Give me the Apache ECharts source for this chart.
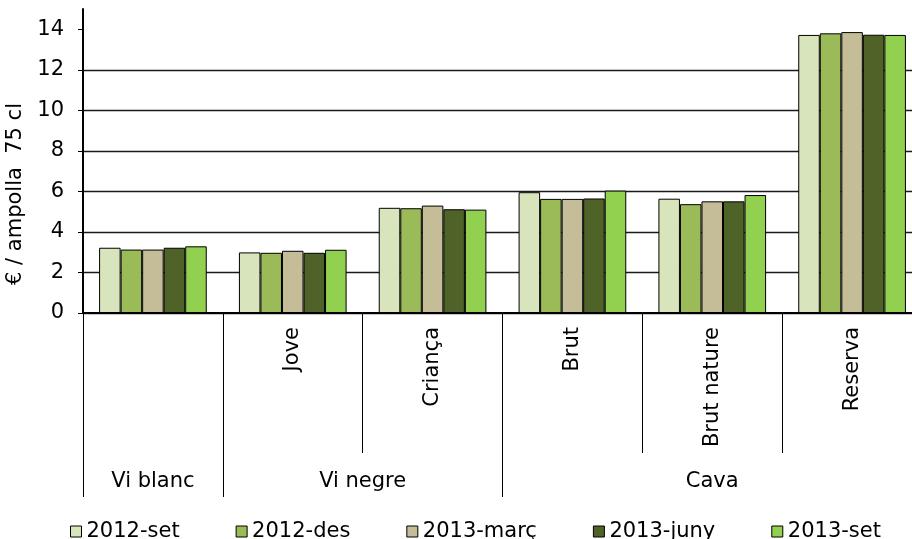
<!DOCTYPE html>
<html>
<head>
<meta charset="utf-8">
<script src="https://cdn.jsdelivr.net/npm/echarts@6/dist/echarts.min.js"></script>
<style>
html,body{margin:0;padding:0;background:#fff;}
#chart{width:912px;height:539px;}
</style>
</head>
<body>
<div id="chart"></div>
<script>
const categories = ['', 'Jove', 'Criança', 'Brut', 'Brut nature', 'Reserva'];
const groupNames = ['Vi blanc', 'Vi negre', 'Cava'];
const groupCenters = [0.5, 2, 4.5];
const groupBounds = [0, 1, 3, 6];
const seriesNames = ['2012-set', '2012-des', '2013-març', '2013-juny', '2013-set'];
const set2012 = [3.22, 2.99, 5.19, 5.96, 5.64, 13.72];
const des2012 = [3.13, 2.97, 5.17, 5.63, 5.37, 13.80];
const marc2013 = [3.13, 3.07, 5.30, 5.63, 5.51, 13.86];
const juny2013 = [3.22, 2.97, 5.12, 5.65, 5.51, 13.73];
const set2013 = [3.29, 3.12, 5.10, 6.04, 5.82, 13.72];
const yTicks = [0, 2, 4, 6, 8, 10, 12, 14];

const colors = ['#D8E4BC', '#9BBB59', '#C4BD97', '#4F6228', '#92D050'];
const values = [set2012, des2012, marc2013, juny2013, set2013];
const FONT = 'DejaVu Sans';

const chart = echarts.init(document.getElementById('chart'), null, {renderer: 'canvas'});
chart.setOption({
  animation: false,
  backgroundColor: '#ffffff',
  textStyle: {fontFamily: FONT, color: '#000'},
  legend: {
    left: 65, top: 516,
    icon: 'rect', itemWidth: 11, itemHeight: 11, itemGap: 56,
    textStyle: {fontFamily: FONT, fontSize: 21, color: '#000'},
    itemStyle: {borderColor: '#000', borderWidth: 1},
    data: seriesNames
  },
  grid: {left: 83, top: 9, right: -10, bottom: 226, containLabel: false, outerBoundsMode: 'none'},
  xAxis: [
    {
      type: 'category', data: categories, position: 'bottom',
      axisLine: {show: true, lineStyle: {color: '#000', width: 2}},
      axisTick: {show: true, length: 140, alignWithLabel: false, lineStyle: {color: '#000', width: 1}},
      axisLabel: {rotate: 90, interval: 0, margin: 14, fontFamily: FONT, fontSize: 21, color: '#000'},
      splitLine: {show: false}
    },
    {
      type: 'value', min: 0, max: 6, position: 'bottom', offset: 140,
      axisLine: {show: false},
      axisTick: {show: true, length: 44, customValues: groupBounds, lineStyle: {color: '#000', width: 1}},
      axisLabel: {
        customValues: groupCenters, margin: 18, fontFamily: FONT, fontSize: 21, color: '#000',
        formatter: function (v) { const i = groupCenters.indexOf(v); return i >= 0 ? groupNames[i] : ''; }
      },
      splitLine: {show: false}
    }
  ],
  yAxis: {
    type: 'value', min: 0, max: 15, interval: 2,
    name: '€ / ampolla  75 cl', nameLocation: 'middle', nameRotate: 90, nameGap: 55,
    nameTextStyle: {fontFamily: FONT, fontSize: 21, color: '#000', padding: [0, 66, 0, 0]},
    axisLine: {show: true, lineStyle: {color: '#000', width: 2}},
    axisTick: {show: true, length: 5, customValues: yTicks, lineStyle: {color: '#000', width: 1}},
    axisLabel: {customValues: yTicks, margin: 19, fontFamily: FONT, fontSize: 21, color: '#000'},
    splitLine: {show: true, showMaxLine: false, lineStyle: {color: '#1a1a1a', width: 1.4}}
  },
  series: seriesNames.map((n, i) => ({
    name: n, type: 'bar', xAxisIndex: 0, data: values[i],
    barGap: '0%', barCategoryGap: '23%',
    itemStyle: {color: colors[i], borderColor: '#000', borderWidth: 1}
  }))
});
</script>
</body>
</html>
